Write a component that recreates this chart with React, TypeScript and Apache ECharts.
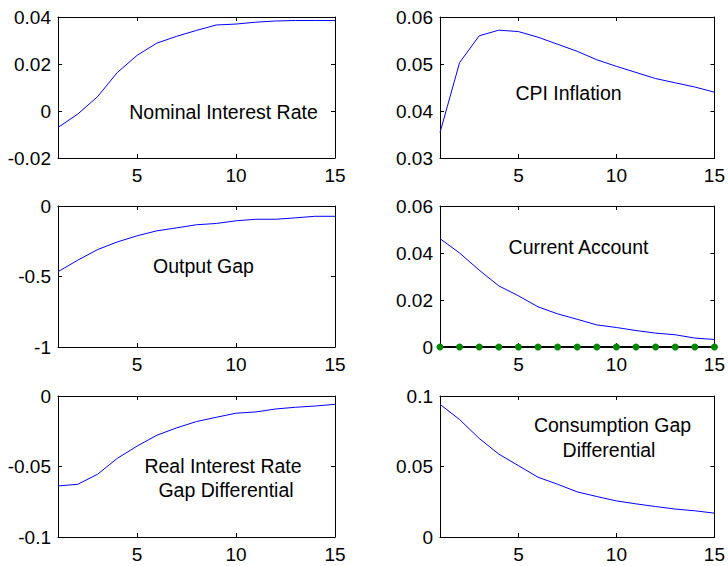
import React, { useEffect, useRef } from "react";
import * as echarts from "echarts";

const periods = [1, 2, 3, 4, 5, 6, 7, 8, 9, 10, 11, 12, 13, 14, 15];
const xTicks = [5, 10, 15];

const nominalInterestRate = [-0.007, -0.0013, 0.0061, 0.0164, 0.0237, 0.0289, 0.0318, 0.0343, 0.0366, 0.037, 0.0378, 0.0383, 0.0385, 0.0385, 0.0385];
const cpiInflation = [0.0354, 0.0503, 0.056, 0.0572, 0.0569, 0.0557, 0.0542, 0.0527, 0.0509, 0.0495, 0.0482, 0.0469, 0.046, 0.0451, 0.044];
const outputGap = [-0.466, -0.384, -0.309, -0.255, -0.211, -0.176, -0.155, -0.133, -0.124, -0.105, -0.094, -0.094, -0.084, -0.073, -0.073];
const currentAccount = [0.0461, 0.04, 0.0327, 0.026, 0.0218, 0.0171, 0.0141, 0.0118, 0.0094, 0.0083, 0.007, 0.0059, 0.0052, 0.0038, 0.0032];
const zeroLine = [0, 0, 0, 0, 0, 0, 0, 0, 0, 0, 0, 0, 0, 0, 0];
const realRateGapDiff = [-0.0638, -0.0626, -0.0555, -0.0442, -0.0355, -0.0278, -0.0226, -0.0181, -0.0151, -0.0122, -0.0113, -0.0092, -0.008, -0.0071, -0.0059];
const consumptionGapDiff = [0.0941, 0.0833, 0.0699, 0.0588, 0.0506, 0.0424, 0.0374, 0.032, 0.0287, 0.0256, 0.0235, 0.0216, 0.0198, 0.0186, 0.0169];

const panelSeries = [nominalInterestRate, cpiInflation, outputGap, currentAccount, realRateGapDiff, consumptionGapDiff];
const yMin = [-0.02, 0.03, -1, 0, -0.1, 0];
const yMax = [0.04, 0.06, 0, 0.06, 0, 0.1];
const yInterval = [0.02, 0.01, 0.5, 0.02, 0.05, 0.05];

const panelLabels = [
  ["Nominal Interest Rate"],
  ["CPI Inflation"],
  ["Output Gap"],
  ["Current Account"],
  ["Real Interest Rate", "Gap Differential"],
  ["Consumption Gap", "Differential"],
];

const FONT = "'Liberation Sans', Arial, Helvetica, sans-serif";
const FS = 19;
const FS_TEXT = 19.5;

export default function App() {
  const ref = useRef<HTMLDivElement>(null);
  useEffect(() => {
    if (!ref.current) return;
    const chart = echarts.init(ref.current, null, { renderer: "svg" });

    const colLeft = [58, 440];
    const rowTop = [17, 206, 396];
    const W = 277;
    const H = 141;

    const grids: any[] = [];
    const xAxes: any[] = [];
    const yAxes: any[] = [];
    const series: any[] = [];

    const axisLine = { show: true, onZero: false, lineStyle: { color: "#000", width: 1 } };
    const tick = { show: true, inside: true, length: 4, lineStyle: { color: "#000", width: 1 } };

    for (let i = 0; i < 6; i++) {
      const c = i % 2;
      const r = Math.floor(i / 2);
      grids.push({ left: colLeft[c], top: rowTop[r], width: W, height: H, show: false });
      const xBase = {
        type: "value",
        gridIndex: i,
        min: 1,
        max: 15,
        splitLine: { show: false },
        axisLine,
      };
      xAxes.push({
        ...xBase,
        position: "bottom",
        axisTick: { ...tick, customValues: xTicks },
        axisLabel: { show: true, customValues: xTicks, color: "#000", fontSize: FS, fontFamily: FONT, margin: 8 },
      });
      xAxes.push({
        ...xBase,
        position: "top",
        axisTick: { ...tick, customValues: xTicks },
        axisLabel: { show: false, customValues: xTicks },
      });
      const yBase = {
        type: "value",
        gridIndex: i,
        min: yMin[i],
        max: yMax[i],
        interval: yInterval[i],
        splitLine: { show: false },
        axisLine,
        axisTick: tick,
      };
      yAxes.push({
        ...yBase,
        position: "left",
        axisLabel: { show: true, color: "#000", fontSize: FS, fontFamily: FONT, margin: 7 },
      });
      yAxes.push({
        ...yBase,
        position: "right",
        axisLabel: { show: false },
      });
      series.push({
        type: "line",
        xAxisIndex: 2 * i,
        yAxisIndex: 2 * i,
        data: periods.map((p, k) => [p, panelSeries[i][k]]),
        showSymbol: false,
        symbol: "none",
        lineStyle: { color: "#0000ff", width: 1 },
        z: 3,
      });
      if (i === 3) {
        series.push({
          type: "line",
          xAxisIndex: 2 * i,
          yAxisIndex: 2 * i,
          data: periods.map((p, k) => [p, zeroLine[k]]),
          symbol: "circle",
          symbolSize: 7,
          itemStyle: { color: "#008800", borderWidth: 0 },
          lineStyle: { color: "#000", width: 2 },
          z: 4,
        });
      }
    }

    const labelPos = [
      [[223.5, 112]],
      [[568.5, 93]],
      [[203.5, 266]],
      [[578.5, 247]],
      [[223, 466], [226, 490]],
      [[612.5, 425], [609, 450]],
    ];
    const graphics: any[] = [];
    panelLabels.forEach((lines, i) => {
      lines.forEach((txt, j) => {
        graphics.push({
          type: "text",
          x: labelPos[i][j][0],
          y: labelPos[i][j][1],
          style: {
            text: txt,
            fill: "#000",
            fontSize: FS_TEXT,
            fontFamily: FONT,
            textAlign: "center",
            textVerticalAlign: "middle",
          },
          z: 10,
        });
      });
    });

    chart.setOption({
      animation: false,
      backgroundColor: "#fff",
      grid: grids,
      xAxis: xAxes,
      yAxis: yAxes,
      series,
      graphic: graphics,
    });
    return () => chart.dispose();
  }, []);
  return (
    <div
      ref={ref}
      style={{ position: "fixed", left: 0, top: 0, width: 728, height: 566, background: "#fff" }}
    />
  );
}
